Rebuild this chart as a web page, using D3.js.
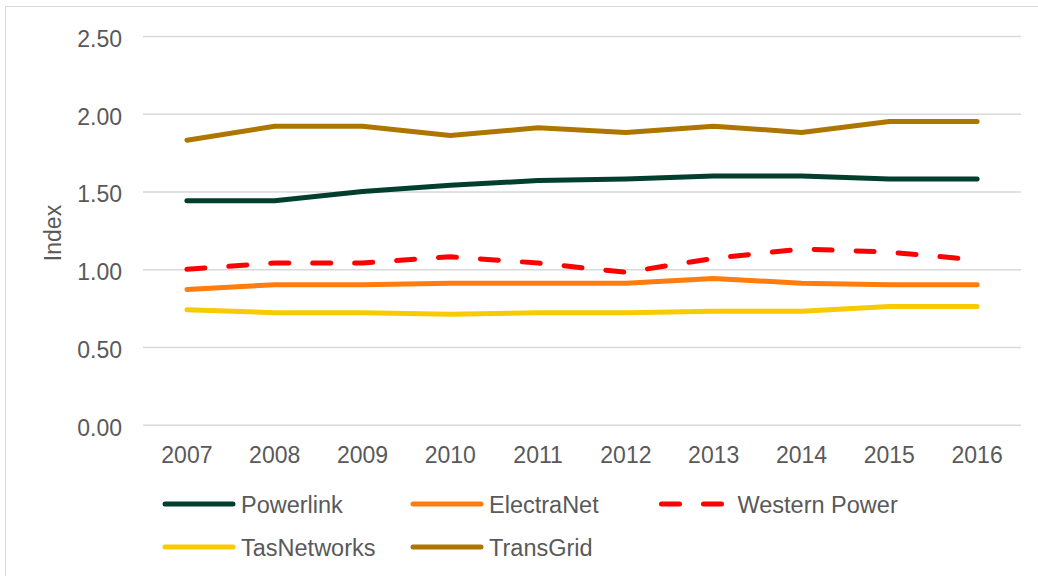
<!DOCTYPE html>
<html>
<head>
<meta charset="utf-8">
<script src="https://cdn.jsdelivr.net/npm/d3@7"></script>
<style>
  body { margin: 0; background: #fff; }
  svg text { font-family: "Liberation Sans", Arial, sans-serif; fill: #595959; }
</style>
</head>
<body>
<div id="chart"></div>
<script>
// values
const years = ["2007", "2008", "2009", "2010", "2011", "2012", "2013", "2014", "2015", "2016"];
const powerlink    = [1.44, 1.44, 1.50, 1.54, 1.57, 1.58, 1.60, 1.60, 1.58, 1.58];
const electraNet   = [0.87, 0.90, 0.90, 0.91, 0.91, 0.91, 0.94, 0.91, 0.90, 0.90];
const westernPower = [1.00, 1.04, 1.04, 1.08, 1.04, 0.98, 1.07, 1.13, 1.11, 1.06];
const tasNetworks  = [0.74, 0.72, 0.72, 0.71, 0.72, 0.72, 0.73, 0.73, 0.76, 0.76];
const transGrid    = [1.83, 1.92, 1.92, 1.86, 1.91, 1.88, 1.92, 1.88, 1.95, 1.95];
const yTicks = [0, 0.5, 1, 1.5, 2, 2.5];

const series = [
    {name: "Powerlink", values: powerlink, color: "#003f2e", dash: null},
    {name: "ElectraNet", values: electraNet, color: "#ff7c0e", dash: null},
    {name: "Western Power", values: westernPower, color: "#ff0000", dash: "18,24"},
    {name: "TasNetworks", values: tasNetworks, color: "#f8cb00", dash: null},
    {name: "TransGrid", values: transGrid, color: "#ad7600", dash: null}
];

const width = 1038, height = 576;
const plot = {left: 143, right: 1021, top: 36, bottom: 424.7};

const svg = d3.select("#chart").append("svg")
    .attr("width", width)
    .attr("height", height);

// chart frame
svg.append("rect")
    .attr("x", 5.5).attr("y", 6.5)
    .attr("width", 1100).attr("height", 1000)
    .attr("fill", "none")
    .attr("stroke", "#d9d9d9");

const x = d3.scaleBand().domain(years).range([plot.left, plot.right]);
const y = d3.scaleLinear().domain([0, 2.5]).range([plot.bottom, plot.top]);

// gridlines + y labels
const yAxis = svg.append("g")
    .attr("transform", "translate(" + plot.left + ",0)")
    .call(d3.axisLeft(y).tickValues(yTicks).tickFormat(d3.format(".2f"))
        .tickSize(-(plot.right - plot.left)).tickPadding(21));
yAxis.select(".domain").remove();
yAxis.selectAll("line").attr("stroke", "#d9d9d9").attr("stroke-width", 1.5);
yAxis.selectAll("text")
    .attr("font-size", 23)
    .attr("dy", "0.45em")
    .style("font-family", "Liberation Sans, Arial, sans-serif")
    .attr("fill", "#595959");

// x labels
const xAxis = svg.append("g")
    .attr("transform", "translate(0," + plot.bottom + ")")
    .call(d3.axisBottom(x).tickSize(0).tickPadding(22));
xAxis.select(".domain").remove();
xAxis.selectAll("text")
    .attr("font-size", 23)
    .style("font-family", "Liberation Sans, Arial, sans-serif")
    .attr("fill", "#595959");

// y title
svg.append("text")
    .attr("transform", "translate(61,233) rotate(-90)")
    .attr("text-anchor", "middle")
    .attr("font-size", 23)
    .text("Index");

const line = d3.line()
    .x((d, i) => x(years[i]) + x.bandwidth() / 2)
    .y(d => y(d));

svg.selectAll(".series")
    .data(series)
    .enter().append("path")
    .attr("class", "series")
    .attr("d", d => line(d.values))
    .attr("fill", "none")
    .attr("stroke", d => d.color)
    .attr("stroke-width", 5)
    .attr("stroke-linecap", "round")
    .attr("stroke-linejoin", "round")
    .attr("stroke-dasharray", d => d.dash);

// legend
const legendPos = [
    {x: 165, y: 504}, {x: 413, y: 504}, {x: 661.5, y: 504},
    {x: 165, y: 547}, {x: 413, y: 547}
];
const legend = svg.selectAll(".legend")
    .data(series)
    .enter().append("g")
    .attr("class", "legend")
    .attr("transform", (d, i) => "translate(" + legendPos[i].x + "," + legendPos[i].y + ")");

legend.append("line")
    .attr("x1", 0).attr("x2", d => d.dash ? 60 : 68)
    .attr("y1", 0).attr("y2", 0)
    .attr("stroke", d => d.color)
    .attr("stroke-width", 5)
    .attr("stroke-linecap", "round")
    .attr("stroke-dasharray", d => d.dash);

legend.append("text")
    .attr("x", 76)
    .attr("y", 9)
    .attr("font-size", 23.5)
    .text(d => d.name);
</script>
</body>
</html>
